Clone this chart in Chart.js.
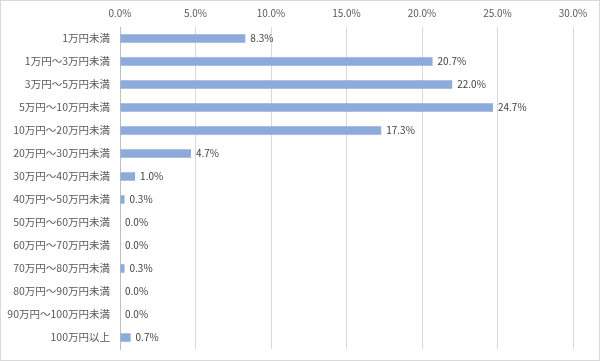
<!DOCTYPE html>
<html><head><meta charset="utf-8">
<script src="https://cdn.jsdelivr.net/npm/chart.js@4"></script>
<style>
html,body{margin:0;padding:0;background:#fff;}
#wrap{width:598px;height:359px;border:1px solid #d9d9d9;position:relative;}
</style></head>
<body><div id="wrap"><canvas id="c" width="598" height="359"></canvas></div>
<script>
const categories = ["1万円未満","1万円～3万円未満","3万円～5万円未満","5万円～10万円未満","10万円～20万円未満","20万円～30万円未満","30万円～40万円未満","40万円～50万円未満","50万円～60万円未満","60万円～70万円未満","70万円～80万円未満","80万円～90万円未満","90万円～100万円未満","100万円以上"];
const values = [8.3,20.7,22.0,24.7,17.3,4.7,1.0,0.3,0.0,0.0,0.3,0.0,0.0,0.7];
const axisMax = 30;
const axisStep = 5;

const FONT = '"Noto Sans CJK JP","Noto Sans",sans-serif';

const valueLabels = {
  id:'valueLabels',
  afterDatasetsDraw(chart){
    const ctx = chart.ctx;
    const meta = chart.getDatasetMeta(0);
    ctx.save();
    ctx.font = '10px ' + FONT;
    ctx.fillStyle = '#404040';
    ctx.textAlign = 'left';
    ctx.textBaseline = 'middle';
    meta.data.forEach((el,i)=>{
      ctx.fillText(values[i].toFixed(1)+'%', el.x + 5, el.y);
    });
    ctx.restore();
  }
};

new Chart(document.getElementById('c'),{
  type:'bar',
  data:{labels:categories,datasets:[{data:values,backgroundColor:'#8eaadb',borderWidth:0,categoryPercentage:1,barPercentage:0.37}]},
  options:{
    indexAxis:'y',
    responsive:false,
    animation:false,
    layout:{padding:{left:0,right:26,top:0,bottom:11}},
    plugins:{legend:{display:false},tooltip:{enabled:false}},
    scales:{
      x:{
        position:'top',min:0,max:axisMax,
        afterFit(s){s.height=26;s.paddingLeft=0;s.paddingRight=0;},
        ticks:{stepSize:axisStep,padding:8,color:'#595959',font:{family:FONT,size:10},callback:v=>v.toFixed(1)+'%'},
        grid:{color:'#d9d9d9',drawTicks:false},
        border:{display:false}
      },
      y:{
        afterFit(s){s.width=119;s.paddingTop=0;s.paddingBottom=0;},
        ticks:{padding:10,color:'#595959',font:{family:FONT,size:10.5},autoSkip:false},
        grid:{display:false,drawTicks:false},
        border:{display:true,color:'#bfbfbf'}
      }
    }
  },
  plugins:[valueLabels]
});
</script></body></html>
